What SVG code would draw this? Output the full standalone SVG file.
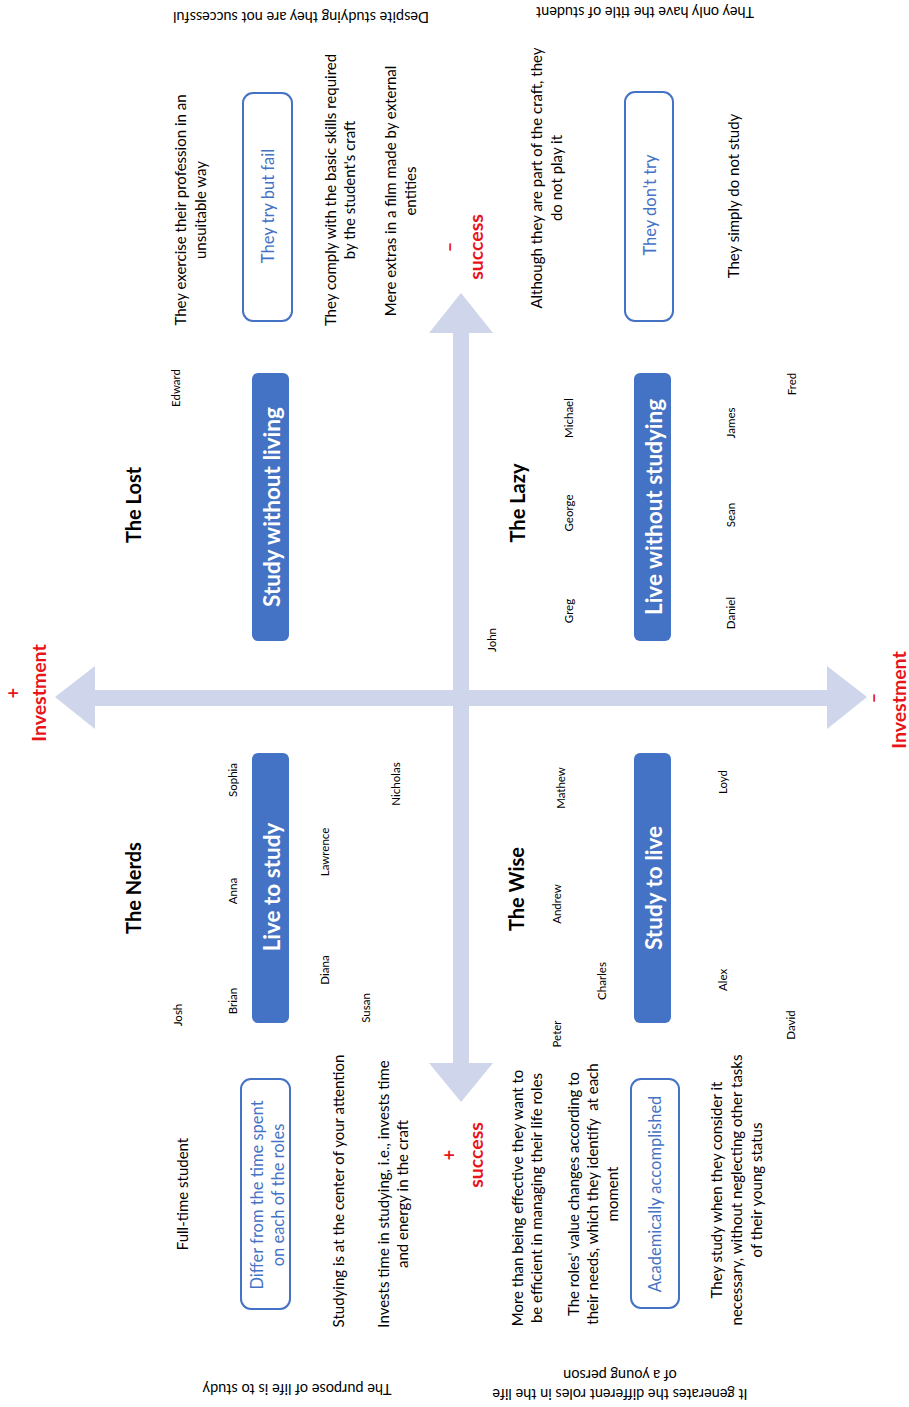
<svg xmlns="http://www.w3.org/2000/svg" width="909" height="1407" viewBox="0 0 909 1407">
  <style>
    text { font-family: Lato, "Liberation Sans", sans-serif; fill: #000; dominant-baseline: central; text-anchor: middle; }
    .body { font-size: 15px; }
    .note { font-size: 14.5px; }
    .name { font-size: 11.5px; }
    .title { font-size: 20px; font-weight: 700; }
    .badge rect { fill: #4472C4; }
    .badge text { fill: #fff; font-size: 22.5px; font-weight: 700; }
    .outline rect { fill: #fff; stroke: #4472C4; stroke-width: 2; }
    .outline text { fill: #4472C4; font-size: 16.5px; }
    .axis { fill: #E8141B; font-weight: 700; font-size: 19.5px; }
    .sign { fill: #E8141B; font-weight: 700; font-size: 18px; }
    .arrow { fill: #CFD5EA; }
  </style>

  <!-- axes: investment (horizontal) and success (vertical) -->
  <g id="connectors">
    <polygon class="arrow" points="55,697 95,666 95,690 827,690 827,666 867,697 827,729 827,706 95,706 95,729"/>
    <polygon class="arrow" points="461,293 493,333 469,333 469,1063 493,1063 461,1102 429,1063 453,1063 453,333 429,333"/>
  </g>

  <!-- axis labels -->
  <g id="axis-labels">
    <text class="sign" transform="translate(13,693) rotate(-90)">+</text>
    <text class="axis" transform="translate(38,693) rotate(-90)">Investment</text>
    <text class="sign" transform="translate(873,698) rotate(-90)">–</text>
    <text class="axis" transform="translate(898,700) rotate(-90)">Investment</text>
    <text class="sign" transform="translate(449,247) rotate(-90)">–</text>
    <text class="axis" transform="translate(475,247) rotate(-90)">success</text>
    <text class="sign" transform="translate(449,1155) rotate(-90)">+</text>
    <text class="axis" transform="translate(475,1155) rotate(-90)">success</text>
  </g>

  <!-- edge captions, printed upside down -->
  <g id="captions">
    <text class="note" transform="translate(301,17) rotate(180)">Despite studying they are not successful</text>
    <text class="note" transform="translate(645,12) rotate(180)">They only have the title of student</text>
    <text class="note" transform="translate(297,1389) rotate(180)">The purpose of life is to study</text>
    <text class="note" transform="translate(620,1395) rotate(180)"><tspan x="0" dy="0">It generates the different roles in the life</tspan><tspan x="0" dy="19">of a young person</tspan></text>
  </g>

  <!-- quadrant: The Lost -->
  <g id="lost">
    <text class="title" transform="translate(133,505) rotate(-90)">The Lost</text>
    <text class="name" transform="translate(175,388) rotate(-90)">Edward</text>
    <g id="lost-badge" class="badge">
      <rect x="252" y="373" width="37" height="268" rx="6"/>
      <text transform="translate(271,507) rotate(-90)">Study without living</text>
    </g>
    <text class="body" transform="translate(180,210) rotate(-90)"><tspan x="0" dy="0">They exercise their profession in an</tspan><tspan x="0" dy="20">unsuitable way</tspan></text>
    <g id="lost-outcome" class="outline">
      <rect x="243" y="93" width="49" height="228" rx="10"/>
      <text transform="translate(268,206) rotate(-90)">They try but fail</text>
    </g>
    <text class="body" transform="translate(330,190) rotate(-90)"><tspan x="0" dy="0">They comply with the basic skills required</tspan><tspan x="0" dy="19">by the student's craft</tspan></text>
    <text class="body" transform="translate(390,191) rotate(-90)"><tspan x="0" dy="0">Mere extras in a film made by external</tspan><tspan x="0" dy="20">entities</tspan></text>
  </g>

  <!-- quadrant: The Lazy -->
  <g id="lazy">
    <text class="title" transform="translate(517,503) rotate(-90)">The Lazy</text>
    <text class="name" transform="translate(491,640) rotate(-90)">John</text>
    <text class="name" transform="translate(568,611) rotate(-90)">Greg</text>
    <text class="name" transform="translate(568,513) rotate(-90)">George</text>
    <text class="name" transform="translate(568,418) rotate(-90)">Michael</text>
    <g id="lazy-badge" class="badge">
      <rect x="634" y="373" width="37" height="268" rx="6"/>
      <text transform="translate(653,507) rotate(-90)">Live without studying</text>
    </g>
    <text class="name" transform="translate(730,613) rotate(-90)">Daniel</text>
    <text class="name" transform="translate(730,515) rotate(-90)">Sean</text>
    <text class="name" transform="translate(730,423) rotate(-90)">James</text>
    <text class="name" transform="translate(791,384) rotate(-90)">Fred</text>
    <text class="body" transform="translate(536,178) rotate(-90)"><tspan x="0" dy="0">Although they are part of the craft, they</tspan><tspan x="0" dy="20">do not play it</tspan></text>
    <g id="lazy-outcome" class="outline">
      <rect x="625" y="92" width="48" height="229" rx="10"/>
      <text transform="translate(650,205) rotate(-90)">They don't try</text>
    </g>
    <text class="body" transform="translate(733,196) rotate(-90)">They simply do not study</text>
  </g>

  <!-- quadrant: The Nerds -->
  <g id="nerds">
    <text class="title" transform="translate(133,888) rotate(-90)">The Nerds</text>
    <text class="name" transform="translate(177,1015) rotate(-90)">Josh</text>
    <text class="name" transform="translate(232,1001) rotate(-90)">Brian</text>
    <text class="name" transform="translate(232,891) rotate(-90)">Anna</text>
    <text class="name" transform="translate(232,780) rotate(-90)">Sophia</text>
    <g id="nerds-badge" class="badge">
      <rect x="252" y="753" width="37" height="270" rx="6"/>
      <text transform="translate(271,887) rotate(-90)">Live to study</text>
    </g>
    <text class="name" transform="translate(324,970) rotate(-90)">Diana</text>
    <text class="name" transform="translate(324,852) rotate(-90)">Lawrence</text>
    <text class="name" transform="translate(365,1008) rotate(-90)">Susan</text>
    <text class="name" transform="translate(395,784) rotate(-90)">Nicholas</text>
    <text class="body" transform="translate(182,1194) rotate(-90)">Full-time student</text>
    <g id="nerds-outcome" class="outline">
      <rect x="241" y="1079" width="49" height="230" rx="10"/>
      <text transform="translate(257,1195) rotate(-90)"><tspan x="0" dy="0">Differ from the time spent</tspan><tspan x="0" dy="21">on each of the roles</tspan></text>
    </g>
    <text class="body" transform="translate(338,1191) rotate(-90)">Studying is at the center of your attention</text>
    <text class="body" transform="translate(383,1194) rotate(-90)"><tspan x="0" dy="0">Invests time in studying, i.e., invests time</tspan><tspan x="0" dy="19">and energy in the craft</tspan></text>
  </g>

  <!-- quadrant: The Wise -->
  <g id="wise">
    <text class="title" transform="translate(516,889) rotate(-90)">The Wise</text>
    <text class="name" transform="translate(560,788) rotate(-90)">Mathew</text>
    <text class="name" transform="translate(556,904) rotate(-90)">Andrew</text>
    <text class="name" transform="translate(556,1034) rotate(-90)">Peter</text>
    <text class="name" transform="translate(601,981) rotate(-90)">Charles</text>
    <g id="wise-badge" class="badge">
      <rect x="634" y="753" width="37" height="270" rx="6"/>
      <text transform="translate(653,888) rotate(-90)">Study to live</text>
    </g>
    <text class="name" transform="translate(722,782) rotate(-90)">Loyd</text>
    <text class="name" transform="translate(722,980) rotate(-90)">Alex</text>
    <text class="name" transform="translate(790,1025) rotate(-90)">David</text>
    <text class="body" transform="translate(517,1198) rotate(-90)"><tspan x="0" dy="0">More than being effective they want to</tspan><tspan x="0" dy="19">be efficient in managing their life roles</tspan></text>
    <text class="body" transform="translate(573,1194) rotate(-90)"><tspan x="0" dy="0">The roles' value changes according to</tspan><tspan x="0" dy="19">their needs, which they identify&#160; at each</tspan><tspan x="0" dy="20">moment</tspan></text>
    <g id="wise-outcome" class="outline">
      <rect x="631" y="1079" width="48" height="229" rx="10"/>
      <text transform="translate(655,1194) rotate(-90)">Academically accomplished</text>
    </g>
    <text class="body" transform="translate(716,1190) rotate(-90)"><tspan x="0" dy="0">They study when they consider it</tspan><tspan x="0" dy="20">necessary, without neglecting other tasks</tspan><tspan x="0" dy="20">of their young status</tspan></text>
  </g>
</svg>
